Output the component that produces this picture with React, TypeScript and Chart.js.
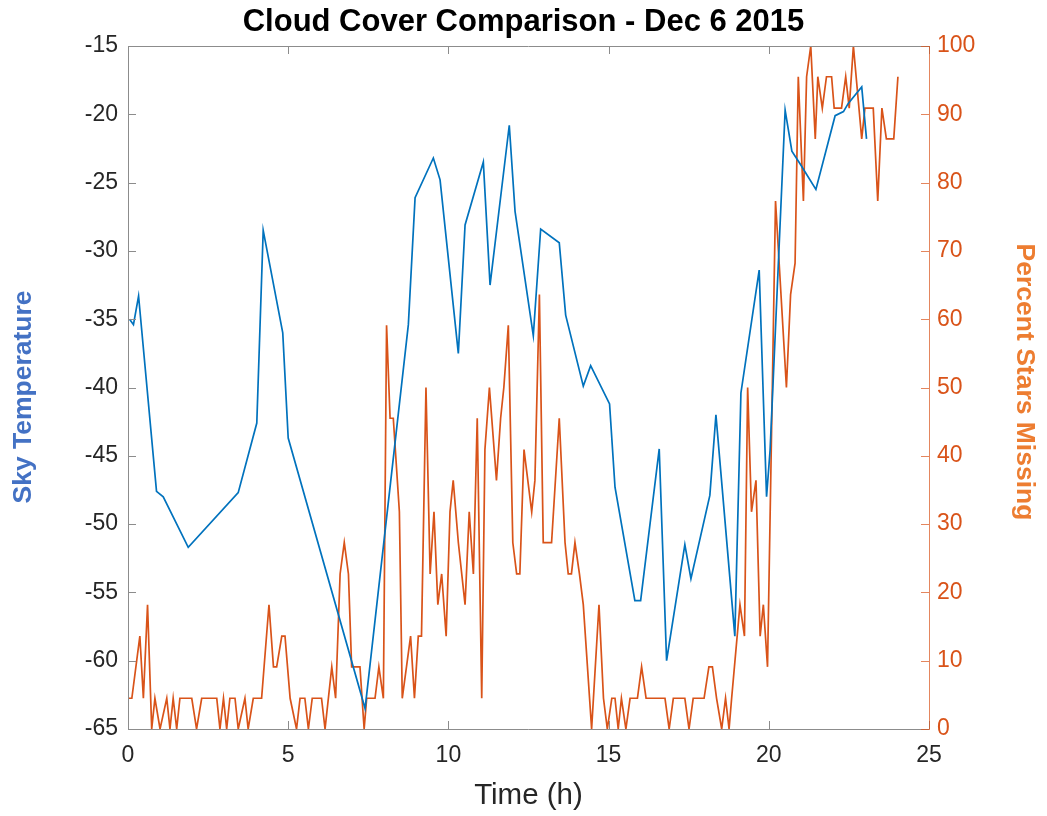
import { useEffect, useRef } from "react";
import { Chart, registerables } from "chart.js";

Chart.register(...registerables);

// Sky temperature readings (hours since midnight, degrees)
const tempHours = [
  0.05, 0.17, 0.33, 0.89, 1.1, 1.88, 3.44, 4.02, 4.22, 4.83, 5.0, 7.4, 8.75, 8.96,
  9.53, 9.74, 10.31, 10.52, 11.09, 11.3, 11.9, 12.08, 12.65, 12.88, 13.46, 13.66,
  14.21, 14.44, 15.03, 15.2, 15.82, 16.0, 16.58, 16.81, 17.38, 17.57, 18.16, 18.35,
  18.94, 19.13, 19.7, 19.93, 20.04, 20.51, 20.72, 20.97, 21.47, 22.07, 22.33, 22.48,
  22.9, 23.05,
];
const skyTemperature = [
  -35.0, -35.4, -33.3, -47.6, -48.0, -51.7, -47.7, -42.6, -28.5, -36.0, -43.7, -63.5,
  -35.4, -26.1, -23.2, -24.8, -37.5, -28.1, -23.5, -32.5, -20.8, -27.1, -36.2, -28.4,
  -29.4, -34.7, -39.9, -38.4, -41.2, -47.3, -55.6, -55.6, -44.5, -60.0, -51.5, -54.0,
  -47.9, -42.0, -58.2, -40.4, -31.4, -48.0, -44.6, -19.7, -22.7, -23.6, -25.5, -20.1,
  -19.8, -19.2, -18.0, -21.8,
];

// Star counts (hours since midnight, percent of reference stars not detected)
const starHours = [
  0.0, 0.12, 0.37, 0.48, 0.61, 0.74, 0.84, 1.0, 1.21, 1.31, 1.41, 1.52, 1.62, 1.99,
  2.14, 2.3, 2.77, 2.87, 2.98, 3.08, 3.18, 3.34, 3.44, 3.65, 3.75, 3.91, 4.17, 4.4,
  4.54, 4.64, 4.8, 4.9, 5.06, 5.26, 5.37, 5.52, 5.63, 5.75, 6.04, 6.15, 6.36, 6.48,
  6.62, 6.75, 6.88, 6.98, 7.24, 7.37, 7.45, 7.71, 7.83, 7.97, 8.07, 8.18, 8.28, 8.47,
  8.56, 8.82, 8.94, 9.06, 9.16, 9.3, 9.43, 9.55, 9.67, 9.79, 9.93, 10.05, 10.15,
  10.31, 10.52, 10.65, 10.78, 10.9, 11.04, 11.14, 11.28, 11.5, 11.63, 11.73, 11.87,
  12.01, 12.13, 12.23, 12.36, 12.6, 12.7, 12.84, 12.96, 13.22, 13.46, 13.64, 13.74,
  13.84, 13.95, 14.09, 14.21, 14.47, 14.7, 14.84, 14.96, 15.1, 15.2, 15.3, 15.4,
  15.54, 15.67, 15.9, 16.03, 16.17, 16.76, 16.89, 17.02, 17.38, 17.51, 17.64, 17.98,
  18.13, 18.24, 18.37, 18.53, 18.65, 18.76, 18.84, 19.1, 19.24, 19.34, 19.46, 19.6,
  19.73, 19.83, 19.96, 20.21, 20.55, 20.68, 20.82, 20.92, 21.08, 21.18, 21.31, 21.45,
  21.53, 21.67, 21.8, 21.96, 22.04, 22.27, 22.4, 22.51, 22.64, 22.9, 23.0, 23.26,
  23.4, 23.53, 23.67, 23.9, 24.03,
];
const starsMissing = [
  4.5, 4.5, 13.6, 4.5, 18.2, 0, 4.5, 0, 4.5, 0, 4.5, 0, 4.5, 4.5,
  0, 4.5, 4.5, 0, 4.5, 0, 4.5, 4.5, 0, 4.5, 0, 4.5, 4.5, 18.2,
  9.1, 9.1, 13.6, 13.6, 4.5, 0, 4.5, 4.5, 0, 4.5, 4.5, 0, 9.1, 4.5,
  22.7, 27.3, 22.7, 9.1, 9.1, 0, 4.5, 4.5, 9.1, 4.5, 59.1, 45.5, 45.5, 31.8,
  4.5, 13.6, 4.5, 13.6, 13.6, 50, 22.7, 31.8, 18.2, 22.7, 13.6, 31.8, 36.4,
  27.3, 18.2, 31.8, 22.7, 45.5, 4.5, 40.9, 50, 36.4, 45.5, 50, 59.1,
  27.3, 22.7, 22.7, 40.9, 31.8, 36.4, 63.6, 27.3, 27.3, 45.5, 27.3, 22.7,
  22.7, 27.3, 22.7, 18.2, 0, 18.2, 4.5, 0, 4.5, 4.5, 0, 4.5,
  0, 4.5, 4.5, 9.1, 4.5, 4.5, 0, 4.5, 4.5, 0, 4.5, 4.5,
  9.1, 9.1, 4.5, 0, 4.5, 0, 4.5, 18.2, 13.6, 50, 31.8, 36.4,
  13.6, 18.2, 9.1, 77.3, 50, 63.6, 68.2, 95.5, 77.3, 95.5, 100, 86.4,
  95.5, 90.9, 95.5, 95.5, 90.9, 90.9, 95.5, 90.9, 100, 86.4, 90.9, 90.9,
  77.3, 90.9, 86.4, 86.4, 95.5,
];

const xTickValues = [0, 5, 10, 15, 20, 25];
const tempTickValues = [-65, -60, -55, -50, -45, -40, -35, -30, -25, -20, -15];
const pctTickValues = [0, 10, 20, 30, 40, 50, 60, 70, 80, 90, 100];

const BLUE = "#0072BD";
const ORANGE = "#D95319";
const AXIS_GRAY = "#8c8c8c";
const TEXT_GRAY = "#262626";
const FONT = "'Liberation Sans', Arial, Helvetica, sans-serif";

// MATLAB-style box: gray left/bottom/top lines, orange right axis, ticks pointing inward
const frameAndTicks = {
  id: "frameAndTicks",
  afterDatasetsDraw(chart: any) {
    const { ctx, chartArea, scales } = chart;
    const { left, right, top, bottom } = chartArea;
    const len = 8;
    ctx.save();
    ctx.lineWidth = 1;
    ctx.strokeStyle = AXIS_GRAY;
    ctx.beginPath();
    ctx.moveTo(left + 0.5, top + 0.5);
    ctx.lineTo(left + 0.5, bottom + 0.5);
    ctx.lineTo(right, bottom + 0.5);
    ctx.moveTo(left, top + 0.5);
    ctx.lineTo(right, top + 0.5);
    for (const v of xTickValues) {
      const px = Math.round(scales.x.getPixelForValue(v)) + 0.5;
      ctx.moveTo(px, bottom);
      ctx.lineTo(px, bottom - len);
      ctx.moveTo(px, top);
      ctx.lineTo(px, top + len);
    }
    for (const v of tempTickValues) {
      const py = Math.round(scales.yTemp.getPixelForValue(v)) + 0.5;
      ctx.moveTo(left, py);
      ctx.lineTo(left + len, py);
    }
    ctx.stroke();
    ctx.strokeStyle = ORANGE;
    ctx.globalAlpha = 0.7;
    ctx.beginPath();
    ctx.moveTo(right + 0.5, top);
    ctx.lineTo(right + 0.5, bottom + 1);
    for (const v of pctTickValues) {
      const py = Math.round(scales.yPct.getPixelForValue(v)) + 0.5;
      ctx.moveTo(right, py);
      ctx.lineTo(right - len, py);
    }
    ctx.stroke();
    ctx.restore();
  },
  afterDraw(chart: any) {
    const { ctx, chartArea } = chart;
    const midX = (chartArea.left + chartArea.right) / 2;
    ctx.save();
    ctx.textAlign = "center";
    ctx.textBaseline = "middle";
    ctx.font = `bold 26.5px ${FONT}`;
    ctx.fillStyle = "#4472C4";
    ctx.translate(24, 397);
    ctx.rotate(-Math.PI / 2);
    ctx.fillText("Sky Temperature", 0, 0);
    ctx.restore();

    ctx.save();
    ctx.textAlign = "center";
    ctx.textBaseline = "middle";
    ctx.font = `bold 26.5px ${FONT}`;
    ctx.fillStyle = "#ED7D31";
    ctx.translate(1024, 382);
    ctx.rotate(Math.PI / 2);
    ctx.fillText("Percent Stars Missing", 0, 0);
    ctx.restore();

    ctx.save();
    ctx.textAlign = "center";
    ctx.textBaseline = "middle";
    ctx.font = `29.5px ${FONT}`;
    ctx.fillStyle = TEXT_GRAY;
    ctx.fillText("Time (h)", midX, 796);
    ctx.restore();
  },
};

export default function App() {
  const canvasRef = useRef<HTMLCanvasElement | null>(null);

  useEffect(() => {
    const canvas = canvasRef.current;
    if (!canvas) return;
    const chart = new Chart(canvas, {
      type: "line",
      data: {
        datasets: [
          {
            label: "Sky Temperature",
            data: tempHours.map((t, i) => ({ x: t, y: skyTemperature[i] })),
            yAxisID: "yTemp",
            borderColor: BLUE,
            borderWidth: 1.7,
            pointRadius: 0,
            tension: 0,
            fill: false,
          },
          {
            label: "Percent Stars Missing",
            data: starHours.map((t, i) => ({ x: t, y: starsMissing[i] })),
            yAxisID: "yPct",
            borderColor: ORANGE,
            borderWidth: 1.7,
            pointRadius: 0,
            tension: 0,
            fill: false,
          },
        ],
      },
      options: {
        animation: false,
        responsive: false,
        maintainAspectRatio: false,
        layout: { padding: 0 },
        plugins: {
          legend: { display: false },
          tooltip: { enabled: false },
          title: {
            display: true,
            text: "Cloud Cover Comparison - Dec 6 2015",
            color: "#000000",
            font: { family: FONT, size: 31, weight: "bold", lineHeight: 1.2 },
            padding: { top: 3.5, bottom: 5.3 },
          },
        },
        scales: {
          x: {
            type: "linear",
            min: 0,
            max: 25,
            grid: { display: false, drawTicks: false },
            border: { display: false },
            afterBuildTicks: (scale: any) => {
              scale.ticks = xTickValues.map((v) => ({ value: v }));
            },
            afterFit: (scale: any) => {
              scale.height = 87;
            },
            ticks: {
              color: TEXT_GRAY,
              padding: 13,
              font: { family: FONT, size: 23 },
              maxRotation: 0,
            },
          },
          yTemp: {
            type: "linear",
            position: "left",
            min: -65,
            max: -15,
            grid: { display: false, drawTicks: false },
            border: { display: false },
            afterBuildTicks: (scale: any) => {
              scale.ticks = tempTickValues.map((v) => ({ value: v }));
            },
            afterFit: (scale: any) => {
              scale.width = 128;
            },
            ticks: {
              color: TEXT_GRAY,
              padding: 10,
              font: { family: FONT, size: 23 },
            },
          },
          yPct: {
            type: "linear",
            position: "right",
            min: 0,
            max: 100,
            grid: { display: false, drawTicks: false },
            border: { display: false },
            afterBuildTicks: (scale: any) => {
              scale.ticks = pctTickValues.map((v) => ({ value: v }));
            },
            afterFit: (scale: any) => {
              scale.width = 118;
            },
            ticks: {
              color: ORANGE,
              padding: 8,
              font: { family: FONT, size: 23 },
            },
          },
        },
      },
      plugins: [frameAndTicks],
    });
    return () => chart.destroy();
  }, []);

  return (
    <div style={{ position: "absolute", left: 0, top: 0, width: 1047, height: 816, background: "#ffffff" }}>
      <canvas ref={canvasRef} width={1047} height={816} style={{ width: 1047, height: 816, display: "block" }} />
    </div>
  );
}
